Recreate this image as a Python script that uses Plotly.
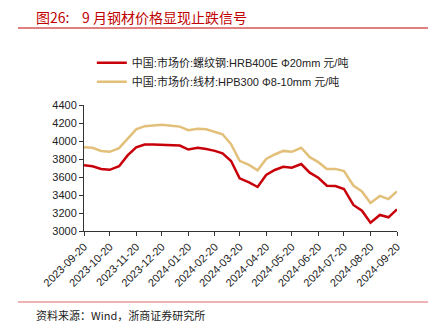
import plotly.graph_objects as go

dates = ["2023-09-20","2023-09-30","2023-10-10","2023-10-20","2023-10-31","2023-11-10","2023-11-20",
         "2023-11-30","2023-12-10","2023-12-20","2023-12-31","2024-01-10","2024-01-20","2024-01-31",
         "2024-02-10","2024-02-20","2024-02-29","2024-03-10","2024-03-20","2024-03-31","2024-04-10",
         "2024-04-20","2024-04-30","2024-05-10","2024-05-20","2024-05-31","2024-06-10","2024-06-20",
         "2024-06-30","2024-07-10","2024-07-20","2024-07-31","2024-08-10","2024-08-20","2024-08-31",
         "2024-09-10","2024-09-20"]
rebar = [3730,3720,3690,3680,3720,3840,3930,3960,3960,3955,3950,3950,3905,3925,3910,3890,3863,3778,
         3585,3541,3489,3622,3678,3714,3703,3744,3648,3592,3503,3500,3467,3289,3226,3092,3178,3152,3241]
wire = [3930,3925,3890,3880,3920,4030,4130,4165,4170,4180,4170,4160,4120,4135,4130,4105,4075,3965,
        3780,3735,3675,3800,3850,3890,3880,3925,3820,3765,3690,3690,3665,3505,3440,3310,3390,3355,3440]
tick_dates = ["2023-09-20","2023-10-20","2023-11-20","2023-12-20","2024-01-20","2024-02-20","2024-03-20",
              "2024-04-20","2024-05-20","2024-06-20","2024-07-20","2024-08-20","2024-09-20"]
y_ticks = [3000,3200,3400,3600,3800,4000,4200,4400]
name1 = "中国:市场价:螺纹钢:HRB400E Φ20mm 元/吨"
name2 = "中国:市场价:线材:HPB300 Φ8-10mm 元/吨"
title = "图26:&nbsp;&nbsp;&nbsp;&nbsp;9 月钢材价格显现止跌信号"
source = "资料来源：Wind，浙商证券研究所"

fig = go.Figure()
fig.add_trace(go.Scatter(x=dates, y=rebar, mode="lines", name=name1,
                         line=dict(color="#c8000a", width=2.5)))
fig.add_trace(go.Scatter(x=dates, y=wire, mode="lines", name=name2,
                         line=dict(color="#e3c07a", width=2.5)))

font_axis = dict(family="Liberation Sans, Arial", size=11, color="#222222")
fig.update_layout(
    template="none",
    width=440, height=329,
    margin=dict(l=84, r=43, t=105, b=98, autoexpand=False),
    paper_bgcolor="white", plot_bgcolor="white",
    showlegend=True,
    legend=dict(x=0.025, y=1.45, xanchor="left", yanchor="top", bgcolor="rgba(0,0,0,0)",
                font=dict(family="Liberation Sans, Noto Sans CJK SC", size=11, color="#222222"),
                tracegroupgap=5, itemwidth=30),
    xaxis=dict(type="date", range=["2023-09-20","2024-09-20"], tickvals=tick_dates, ticktext=tick_dates,
               tickangle=-45, showgrid=False, zeroline=False, showline=True, linecolor="#333333",
               linewidth=1, ticks="outside", ticklen=4, tickcolor="#333333", tickfont=font_axis,
               automargin=False),
    yaxis=dict(range=[3000,4400], tickvals=y_ticks, showgrid=False, zeroline=False, showline=True,
               linecolor="#333333", linewidth=1, ticks="outside", ticklen=4, tickcolor="#333333",
               tickfont=font_axis, automargin=False),
)
fig.add_annotation(xref="paper", yref="paper", x=-66/313, xshift=16, y=(231-5)/126, xanchor="left",
                   yanchor="top", text=title, showarrow=False, align="left",
                   font=dict(family="Noto Sans CJK SC", size=14, color="#c00000"))
fig.add_annotation(xref="paper", yref="paper", x=-66/313, xshift=16, y=(231-305)/126, xanchor="left",
                   yanchor="top", text=source, showarrow=False, align="left",
                   font=dict(family="Noto Sans CJK SC", size=11, color="#222222"))
fig.add_shape(type="line", xref="paper", yref="paper", x0=-66/313, x1=344/313,
              y0=(231-28)/126, y1=(231-28)/126, line=dict(color="#c00000", width=1))
fig.add_shape(type="line", xref="paper", yref="paper", x0=-66/313, x1=344/313,
              y0=(231-302)/126, y1=(231-302)/126, line=dict(color="#e06666", width=1))

fig.write_html("out.html")
